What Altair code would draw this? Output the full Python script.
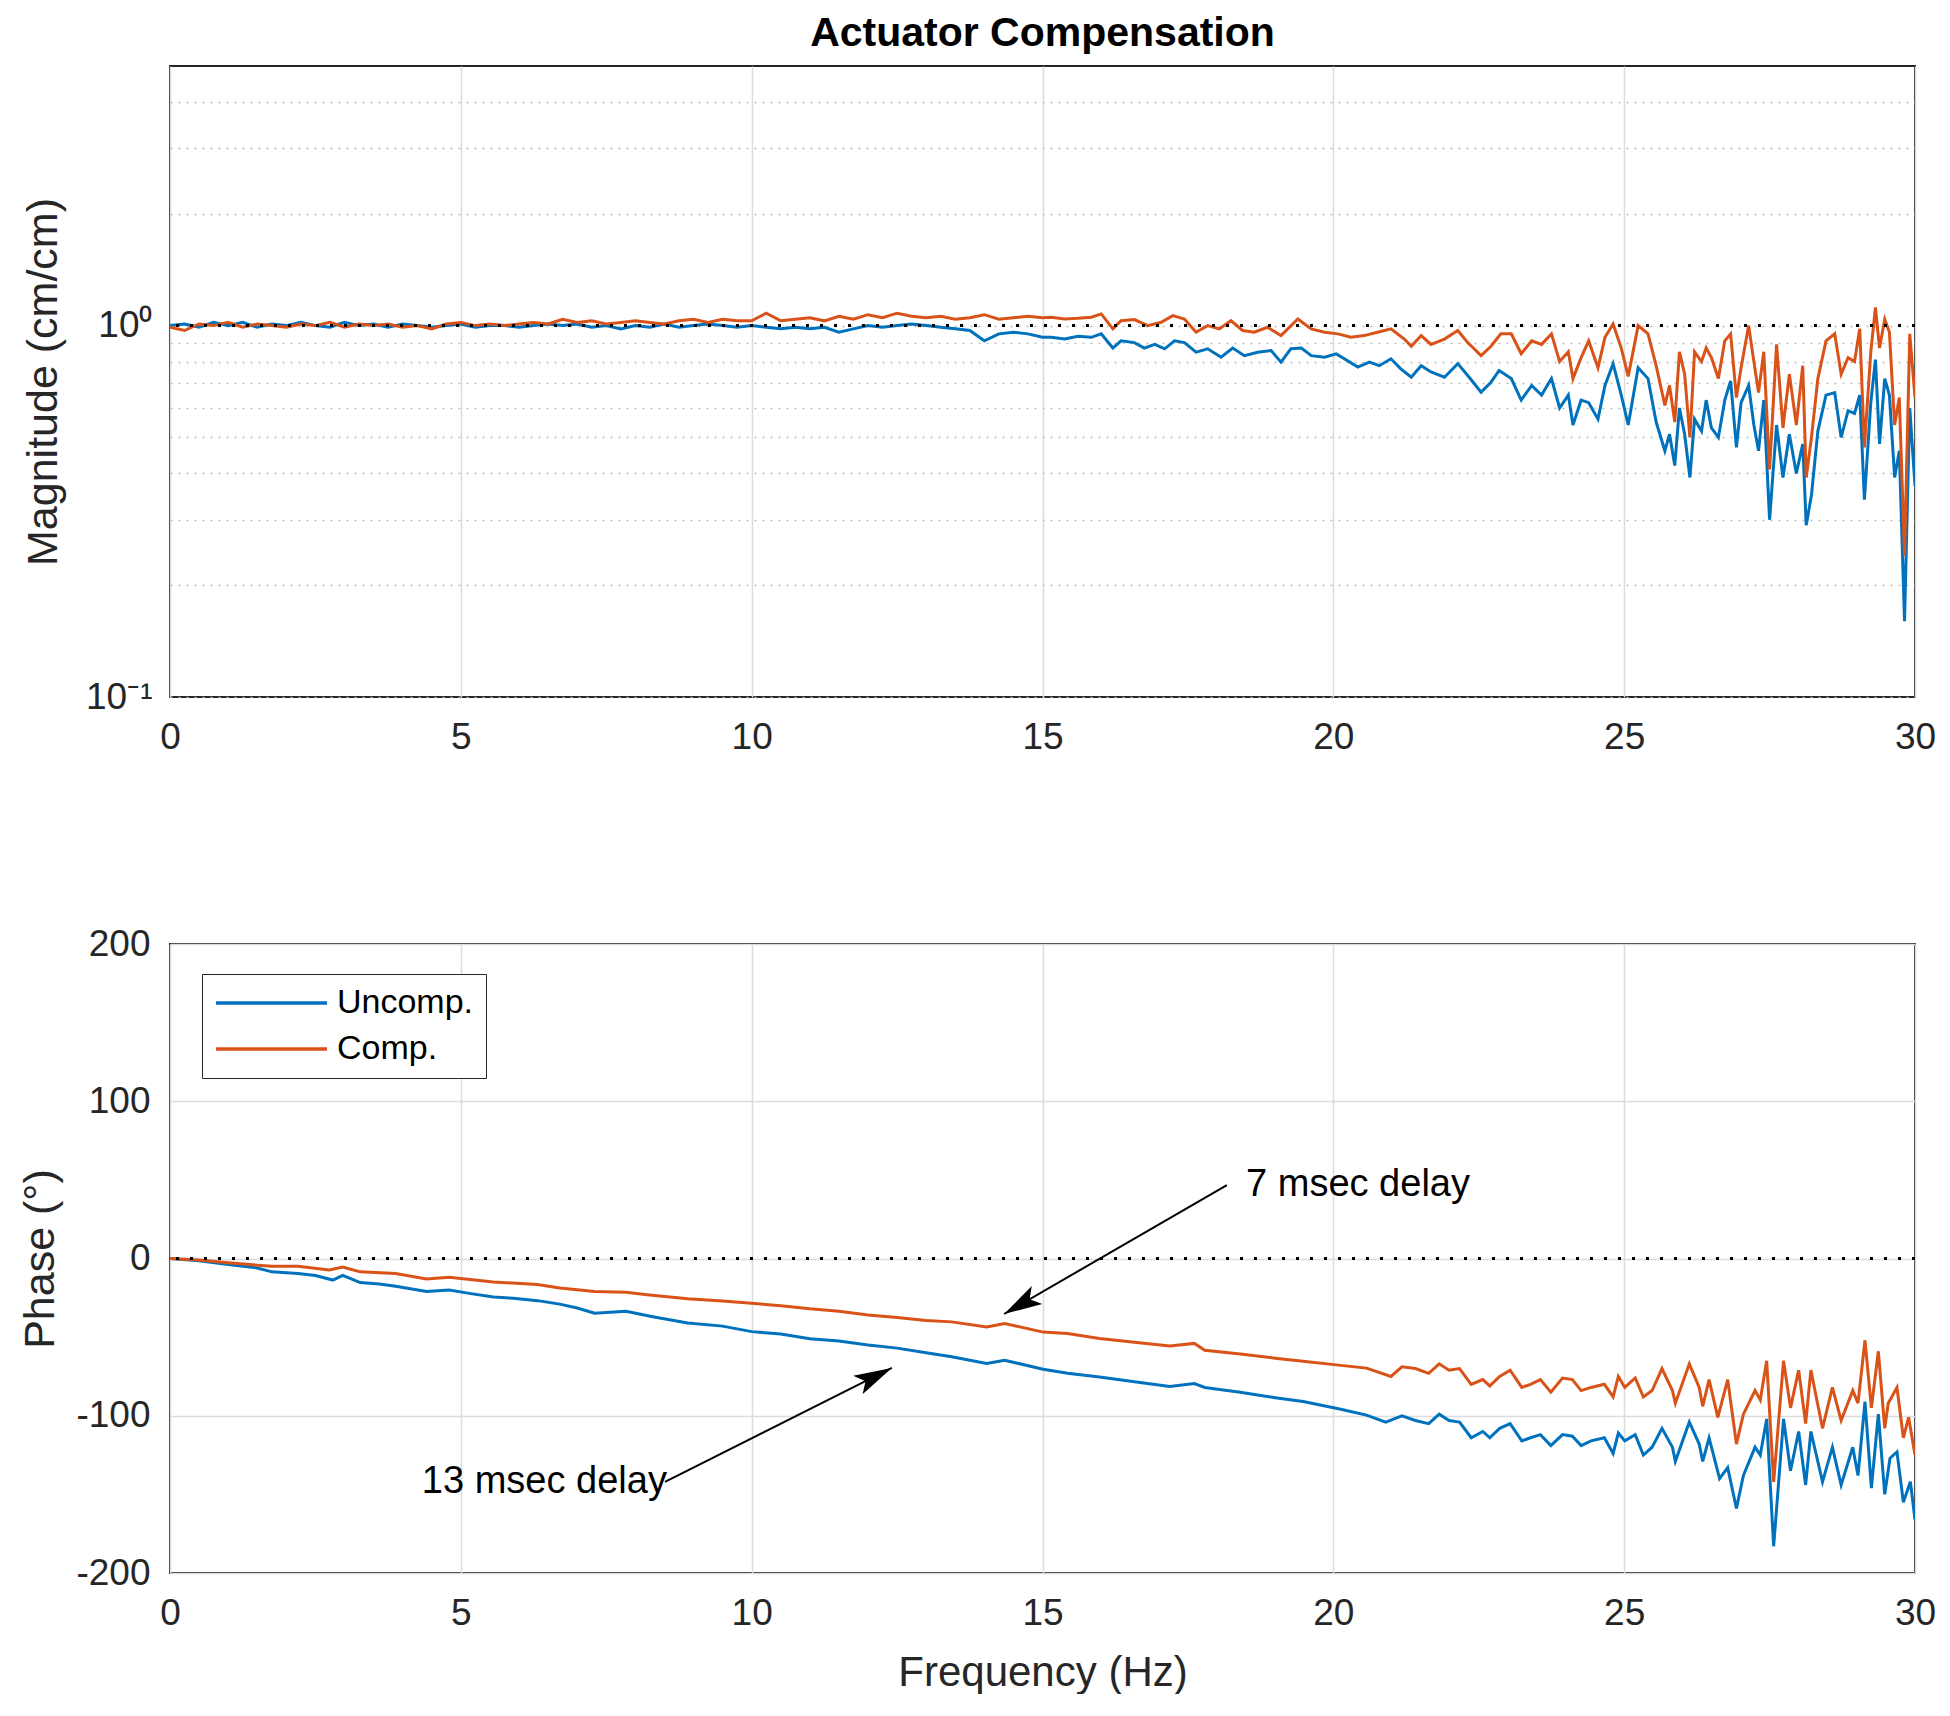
import math
import altair as alt
import pandas as pd

# ---------------- data ----------------
series_names = ["Uncomp.", "Comp."]
series_colors = ["#0072BD", "#D95319"]

# Magnitude, uncompensated
mag_u_freq = [0.0, 0.25, 0.5, 0.75, 1.0, 1.25, 1.5, 1.75, 2.0, 2.25, 2.5, 2.75, 3.0, 3.25, 3.5, 3.75,
              4.0, 4.25, 4.5, 4.75, 5.0, 5.25, 5.5, 5.75, 6.0, 6.25, 6.5, 6.75, 7.0, 7.25, 7.5, 7.75,
              8.0, 8.25, 8.5, 8.75, 9.0, 9.25, 9.5, 9.75, 10.0, 10.25, 10.5, 10.75, 11.0, 11.25, 11.5,
              11.75, 12.0, 12.25, 12.5, 12.75, 13.0, 13.25, 13.5, 13.75, 14.0, 14.25, 14.5, 14.75, 15.0,
              15.15, 15.38, 15.61, 15.84, 16.01, 16.21, 16.35, 16.58, 16.75, 16.93, 17.1, 17.27, 17.44,
              17.64, 17.84, 18.07, 18.27, 18.47, 18.7, 18.93, 19.1, 19.27, 19.45, 19.62, 19.85, 20.05,
              20.19, 20.42, 20.62, 20.79, 20.99, 21.16, 21.34, 21.51, 21.68, 21.91, 22.14, 22.31, 22.54,
              22.71, 22.85]
mag_u_val = [1.0, 1.01, 0.99, 1.02, 1.0, 1.02, 0.99, 1.01, 1.0, 1.02, 1.0, 0.99, 1.02, 1.0, 1.01, 0.99,
             1.01, 1.0, 0.99, 1.0, 1.01, 0.99, 1.0, 1.0, 0.99, 1.0, 1.01, 1.0, 1.01, 0.99, 1.0, 0.98,
             1.0, 0.99, 1.01, 0.99, 1.0, 1.01, 1.0, 0.99, 1.0, 0.99, 0.98, 0.99, 0.98, 0.99, 0.96,
             0.98, 1.0, 0.99, 1.0, 1.01, 1.0, 0.99, 0.98, 0.97, 0.91, 0.95, 0.96, 0.95, 0.93,
             0.93, 0.92, 0.936, 0.93, 0.95, 0.87, 0.91, 0.90, 0.87, 0.89, 0.866, 0.91, 0.90,
             0.848, 0.866, 0.822, 0.87, 0.83, 0.848, 0.857, 0.797, 0.866, 0.87, 0.83, 0.822, 0.839,
             0.814, 0.773, 0.797, 0.78, 0.814, 0.765, 0.726, 0.78, 0.75, 0.726, 0.79, 0.734, 0.662,
             0.704, 0.757]

# Magnitude, compensated
mag_c_freq = [0.0, 0.25, 0.5, 0.75, 1.0, 1.25, 1.5, 1.75, 2.0, 2.25, 2.5, 2.75, 3.0, 3.25, 3.5, 3.75,
              4.0, 4.25, 4.5, 4.75, 5.0, 5.25, 5.5, 5.75, 6.0, 6.25, 6.5, 6.75, 7.0, 7.25, 7.5, 7.75,
              8.0, 8.25, 8.5, 8.75, 9.0, 9.25, 9.5, 9.75, 10.0, 10.25, 10.5, 10.75, 11.0, 11.25, 11.5,
              11.75, 12.0, 12.25, 12.5, 12.75, 13.0, 13.25, 13.5, 13.75, 14.0, 14.25, 14.5, 14.75, 15.0,
              15.15, 15.38, 15.61, 15.84, 16.01, 16.21, 16.35, 16.58, 16.81, 17.04, 17.24, 17.44, 17.64,
              17.84, 18.04, 18.24, 18.44, 18.64, 18.87, 19.1, 19.39, 19.62, 19.85, 20.08, 20.3, 20.53,
              20.76, 20.99, 21.22, 21.34, 21.51, 21.68, 21.91, 22.14, 22.31, 22.54, 22.71, 22.88]
mag_c_val = [0.99, 0.97, 1.01, 1.0, 1.02, 0.99, 1.01, 1.0, 0.99, 1.01, 1.0, 1.02, 0.99, 1.01, 1.0, 1.01,
             0.99, 1.0, 0.98, 1.01, 1.02, 1.0, 1.01, 1.0, 1.01, 1.02, 1.01, 1.04, 1.02, 1.03, 1.01, 1.02,
             1.03, 1.02, 1.01, 1.03, 1.04, 1.02, 1.04, 1.03, 1.03, 1.08, 1.03, 1.04, 1.05, 1.03, 1.06,
             1.04, 1.07, 1.05, 1.08, 1.06, 1.05, 1.06, 1.04, 1.05, 1.07, 1.04, 1.05, 1.06, 1.05,
             1.053, 1.042, 1.046, 1.053, 1.075, 0.98, 1.031, 1.038, 1.0, 1.021, 1.064, 1.042, 0.96,
             1.0, 0.98, 1.031, 0.97, 0.96, 0.99, 0.94, 1.042, 0.98, 0.96, 0.95, 0.93, 0.94,
             0.96, 0.98, 0.92, 0.88, 0.94, 0.89, 0.92, 0.97, 0.90, 0.83, 0.88, 0.95]

# Magnitude above 23 Hz (both series read at the same frequencies)
mag_hi_freq = [23.06, 23.23, 23.41, 23.58, 23.75, 23.89, 24.04, 24.12, 24.26, 24.39, 24.55, 24.67, 24.81,
               24.95, 25.07, 25.24, 25.41, 25.55, 25.7, 25.78, 25.87, 25.95, 26.04, 26.13, 26.21, 26.33,
               26.41, 26.5, 26.62, 26.73, 26.83, 26.93, 27.01, 27.14, 27.23, 27.31, 27.4, 27.5, 27.62,
               27.73, 27.84, 27.96, 28.07, 28.13, 28.22, 28.33, 28.47, 28.62, 28.73, 28.85, 28.96, 29.05,
               29.13, 29.24, 29.32, 29.39, 29.48, 29.56, 29.65, 29.73, 29.82, 29.91, 30.0]
mag_hi_u = [0.72, 0.63, 0.69, 0.65, 0.72, 0.60, 0.65, 0.54, 0.63, 0.62, 0.56, 0.69, 0.79,
            0.65, 0.54, 0.77, 0.72, 0.55, 0.46, 0.51, 0.42, 0.60, 0.51, 0.39, 0.56, 0.52,
            0.63, 0.53, 0.50, 0.63, 0.71, 0.47, 0.62, 0.69, 0.54, 0.46, 0.63, 0.30, 0.54,
            0.39, 0.51, 0.40, 0.48, 0.29, 0.35, 0.52, 0.65, 0.66, 0.50, 0.59, 0.58, 0.65,
            0.34, 0.62, 0.81, 0.48, 0.72, 0.65, 0.39, 0.46, 0.16, 0.60, 0.37]
mag_hi_c = [0.95, 0.84, 0.91, 0.89, 0.95, 0.80, 0.85, 0.72, 0.82, 0.91, 0.77, 0.93, 1.01,
            0.87, 0.73, 1.0, 0.95, 0.78, 0.61, 0.69, 0.55, 0.85, 0.74, 0.50, 0.85, 0.80,
            0.87, 0.82, 0.72, 0.91, 0.95, 0.64, 0.77, 1.0, 0.80, 0.66, 0.85, 0.41, 0.89,
            0.53, 0.74, 0.54, 0.78, 0.39, 0.50, 0.72, 0.91, 0.95, 0.74, 0.82, 0.80, 0.98,
            0.47, 0.85, 1.12, 0.87, 1.04, 0.96, 0.54, 0.64, 0.24, 0.95, 0.64]

# Phase, uncompensated
ph_u_freq = [0.0, 0.5, 1.0, 1.5, 1.75, 2.2, 2.5, 2.8, 2.97, 3.27, 3.6, 3.88, 4.41, 4.8, 5.2, 5.56, 5.9,
             6.32, 6.7, 7.0, 7.3, 7.84, 8.3, 8.9, 9.5, 10.0, 10.5, 11.0, 11.5, 12.0, 12.5, 13.0, 13.44,
             14.04, 14.35, 15.01, 15.43, 15.98, 16.58, 17.19, 17.61, 17.79, 18.4, 19.0, 19.48, 20.09,
             20.57, 20.9, 21.18, 21.41, 21.64, 21.82, 21.99, 22.17, 22.37, 22.57, 22.69, 22.86, 23.04,
             23.24, 23.39, 23.56, 23.74, 23.94, 24.11, 24.26, 24.43, 24.66, 24.81, 24.9, 25.01, 25.19,
             25.33, 25.48, 25.65, 25.83, 25.88, 26.12, 26.29, 26.35, 26.46, 26.64, 26.78, 26.93, 27.05,
             27.25, 27.34, 27.45, 27.57, 27.74, 27.86, 28.0, 28.12, 28.21, 28.41, 28.58, 28.73, 28.93,
             29.02, 29.14, 29.25, 29.37, 29.48, 29.57, 29.69, 29.8, 29.92, 30.0]
ph_u_val = [0.0, -1.5, -3.9, -6.0, -8.5, -9.5, -10.8, -13.7, -10.8, -15.3, -16.2, -17.6, -21.0, -20.0,
            -22.5, -24.5, -25.3, -26.8, -29.0, -31.5, -34.8, -33.6, -37.0, -41.0, -43.0, -46.5, -48.0,
            -51.0, -52.5, -55.0, -57.0, -60.0, -62.5, -66.8, -64.7, -70.4, -73.0, -75.3, -78.4, -81.4,
            -79.5, -82.0, -85.0, -88.5, -91.0, -95.6, -99.6, -104.0, -100.0, -103.0, -105.0, -99.0,
            -103.0, -104.0, -114.0, -110.0, -114.0, -108.0, -105.0, -116.0, -114.0, -112.0, -119.0,
            -112.0, -113.0, -119.0, -116.0, -114.0, -124.0, -111.0, -116.0, -112.0, -125.0, -120.0,
            -108.0, -120.0, -129.0, -104.0, -118.0, -129.0, -114.0, -140.0, -133.0, -159.0, -138.0,
            -120.0, -125.0, -102.0, -183.0, -102.0, -135.0, -110.0, -144.0, -110.0, -142.0, -120.0,
            -144.0, -120.0, -138.0, -91.0, -146.0, -99.0, -150.0, -127.0, -123.0, -155.0, -142.0, -166.0]

# Phase, compensated
ph_c_freq = [0.0, 0.5, 1.0, 1.75, 2.2, 2.74, 2.97, 3.27, 3.88, 4.41, 4.8, 5.56, 6.32, 6.7, 7.3, 7.84,
             8.2, 8.9, 9.5, 10.0, 10.5, 11.0, 11.5, 12.0, 12.5, 13.0, 13.44, 14.04, 14.35, 15.01, 15.43,
             15.98, 16.58, 17.19, 17.61, 17.79, 18.4, 19.0, 19.48, 20.09, 20.57, 20.99, 21.18, 21.41,
             21.64, 21.82, 21.99, 22.17, 22.37, 22.57, 22.69, 22.86, 23.04, 23.24, 23.39, 23.56, 23.74,
             23.94, 24.11, 24.26, 24.43, 24.66, 24.81, 24.9, 25.01, 25.19, 25.33, 25.48, 25.65, 25.83,
             25.88, 26.12, 26.29, 26.35, 26.46, 26.61, 26.78, 26.93, 27.05, 27.25, 27.34, 27.45, 27.57,
             27.74, 27.86, 28.0, 28.12, 28.21, 28.41, 28.58, 28.73, 28.93, 29.02, 29.14, 29.25, 29.37,
             29.48, 29.54, 29.69, 29.8, 29.89, 30.0]
ph_c_val = [0.0, -1.0, -2.7, -5.0, -5.0, -7.3, -5.5, -8.5, -9.6, -13.0, -12.0, -15.0, -16.5, -18.8,
            -21.0, -21.5, -23.0, -25.6, -27.0, -28.5, -30.0, -32.0, -33.5, -36.0, -37.5, -39.5, -40.3,
            -43.5, -41.3, -46.8, -47.7, -50.9, -53.2, -55.7, -54.0, -58.3, -60.8, -63.4, -65.3, -67.8,
            -69.7, -75.0, -68.9, -70.0, -73.0, -67.0, -71.0, -70.0, -80.0, -77.0, -81.0, -75.0, -71.0,
            -82.0, -80.0, -77.0, -85.0, -76.0, -77.0, -84.0, -82.0, -80.0, -88.0, -75.0, -82.0, -76.0,
            -88.0, -84.0, -70.0, -84.0, -92.0, -67.0, -82.0, -94.0, -77.0, -101.0, -77.0, -118.0, -99.0,
            -84.0, -90.0, -65.0, -142.0, -65.0, -95.0, -71.0, -105.0, -71.0, -108.0, -82.0, -103.0,
            -84.0, -92.0, -52.0, -95.0, -59.0, -108.0, -92.0, -82.0, -114.0, -101.0, -125.0]

# Axis ticks / reference levels
freq_ticks = [0, 5, 10, 15, 20, 25, 30]
mag_grid = [0.1, 0.2, 0.3, 0.4, 0.5, 0.6, 0.7, 0.8, 0.9, 1, 2, 3, 4]
phase_ticks = [-200, -100, 0, 100, 200]
mag_ref = [1.0]
phase_ref = [0.0]

# Annotations (data coordinates)
ann_label = ["7 msec delay", "13 msec delay"]
ann_f = [18.5, 4.33]
ann_p = [46.7, -142.0]
arrow_f0 = [18.17, 8.51]
arrow_p0 = [46.7, -142.0]
arrow_f1 = [14.34, 12.41]
arrow_p1 = [-35.3, -69.6]

# ---------------- layout / style ----------------
W = 1745
H_TOP = 631
H_BOT = 629
FONT = "Liberation Sans"
TXT = "#262626"
GRID = "#dcdcdc"

mag_u_df = pd.DataFrame({"f": mag_u_freq + mag_hi_freq, "v": mag_u_val + mag_hi_u, "s": series_names[0]})
mag_c_df = pd.DataFrame({"f": mag_c_freq + mag_hi_freq, "v": mag_c_val + mag_hi_c, "s": series_names[1]})
ph_u_df = pd.DataFrame({"f": ph_u_freq, "v": ph_u_val, "s": series_names[0]})
ph_c_df = pd.DataFrame({"f": ph_c_freq, "v": ph_c_val, "s": series_names[1]})

px_per_hz = W / 30.0
px_per_deg = H_BOT / 400.0
angles = []
for a, b, c, d in zip(arrow_f0, arrow_p0, arrow_f1, arrow_p1):
    dx = (c - a) * px_per_hz
    dy = -(d - b) * px_per_deg
    angles.append(math.degrees(math.atan2(dx, -dy)) % 360)
arrow_df = pd.DataFrame({"f": arrow_f0, "v": arrow_p0, "f2": arrow_f1, "v2": arrow_p1, "ang": angles})
ann_df = pd.DataFrame({"f": ann_f, "v": ann_p, "label": ann_label})

color_scale = alt.Scale(domain=series_names, range=series_colors)
x_scale = alt.Scale(domain=[0, 30], nice=False, zero=False)


def x_enc(field, title):
    return alt.X(field, type="quantitative", scale=x_scale, title=title,
                 axis=alt.Axis(values=freq_ticks, format="d", labelFlush=False, ticks=False,
                               domain=False, grid=True, gridColor=GRID, gridWidth=1.5,
                               labelFontSize=37, labelFont=FONT, labelColor=TXT, labelPadding=22,
                               titleFontSize=42, titleFont=FONT, titleFontWeight="normal",
                               titleColor=TXT, titlePadding=21))


mag_scale = alt.Scale(type="log", domain=[0.1, 5], nice=False)
y_mag = alt.Y("v:Q", scale=mag_scale, title="Magnitude (cm/cm)",
              axis=alt.Axis(values=mag_grid, ticks=False, domain=False, labelOverlap=False,
                            labelExpr="datum.value == 1 ? '10⁰' : (datum.value == 0.1 ? '10⁻¹' : '')",
                            grid=True, gridColor="#bdbdbd", gridDash=[2, 6], gridWidth=1.5,
                            labelFontSize=37, labelFont=FONT, labelColor=TXT, labelPadding=18,
                            titleFontSize=43, titleFont=FONT, titleFontWeight="normal", titleColor=TXT,
                            titleX=-127, titleY=H_TOP / 2, titleBaseline="middle"))

ph_scale = alt.Scale(domain=[-200, 200], nice=False, zero=False)
y_ph_axis = alt.Axis(values=phase_ticks, ticks=False, domain=False, labelOverlap=False,
                     labelExpr="datum.value < 0 ? '-' + (-datum.value) : '' + datum.value",
                     grid=True, gridColor=GRID, gridWidth=1.5,
                     labelFontSize=37, labelFont=FONT, labelColor=TXT, labelPadding=20,
                     titleFontSize=43, titleFont=FONT, titleFontWeight="normal", titleColor=TXT,
                     titleX=-130, titleY=H_BOT / 2, titleBaseline="middle")


def y_ph(field):
    return alt.Y(field, type="quantitative", scale=ph_scale, title="Phase (°)", axis=y_ph_axis)


legend = alt.Legend(orient="none", legendX=32, legendY=30, title=None,
                    symbolType="M-1,0L6.4,0", symbolSize=900, symbolStrokeWidth=3.5,
                    labelOffset=89, labelFontSize=34, labelFont=FONT, labelColor="black",
                    padding=12, rowPadding=12, strokeColor="#262626", fillColor="white",
                    cornerRadius=0)

# ---------------- magnitude panel ----------------
mag_lines_u = alt.Chart(mag_u_df).mark_line(strokeWidth=3, clip=True).encode(
    x=x_enc("f", None), y=y_mag, color=alt.Color("s:N", scale=color_scale, legend=None))
mag_lines_c = alt.Chart(mag_c_df).mark_line(strokeWidth=3, clip=True).encode(
    x=x_enc("f", None), y=y_mag, color=alt.Color("s:N", scale=color_scale, legend=None))
mag_refline = alt.Chart(pd.DataFrame({"v": mag_ref})).mark_rule(
    color="black", strokeWidth=3, strokeDash=[3, 11]).encode(y=y_mag)

top = alt.layer(mag_lines_u, mag_lines_c, mag_refline).properties(
    width=W, height=H_TOP,
    title=alt.Title("Actuator Compensation", fontSize=41, font=FONT, fontWeight="bold",
                    color="black", anchor="middle", frame="group", offset=11))

# ---------------- phase panel ----------------
ph_lines_u = alt.Chart(ph_u_df).mark_line(strokeWidth=3, clip=True).encode(
    x=x_enc("f", "Frequency (Hz)"), y=y_ph("v"),
    color=alt.Color("s:N", scale=color_scale, legend=legend))
ph_lines_c = alt.Chart(ph_c_df).mark_line(strokeWidth=3, clip=True).encode(
    x=x_enc("f", "Frequency (Hz)"), y=y_ph("v"),
    color=alt.Color("s:N", scale=color_scale, legend=legend))
ph_refline = alt.Chart(pd.DataFrame({"v": phase_ref})).mark_rule(
    color="black", strokeWidth=3, strokeDash=[3, 11]).encode(y=y_ph("v"))

arrow_lines = alt.Chart(arrow_df).mark_rule(color="black", strokeWidth=2).encode(
    x=x_enc("f", "Frequency (Hz)"), y=y_ph("v"), x2="f2:Q", y2="v2:Q")
arrow_heads = alt.Chart(arrow_df).mark_point(
    shape="M0,0L0.55,2L0,1.55L-0.55,2Z", size=1444, filled=True, color="black", opacity=1,
    strokeWidth=0).encode(
    x=x_enc("f2", "Frequency (Hz)"), y=y_ph("v2"),
    angle=alt.Angle("ang:Q", scale=None))
ann_text = alt.Chart(ann_df).mark_text(align="left", baseline="middle", fontSize=38, font=FONT,
                                       color="black").encode(
    x=x_enc("f", "Frequency (Hz)"), y=y_ph("v"), text="label:N")

bottom = alt.layer(ph_lines_u, ph_lines_c, ph_refline, arrow_lines, arrow_heads, ann_text).properties(
    width=W, height=H_BOT)

chart = alt.vconcat(top, bottom, spacing=168).resolve_legend(color="independent").properties(
    padding={"left": 10, "top": 4, "right": 0, "bottom": 0},
    background="white",
).configure_view(stroke="#262626", strokeWidth=2)

chart.save("out.html", embed_options={"renderer": "svg", "actions": False})
